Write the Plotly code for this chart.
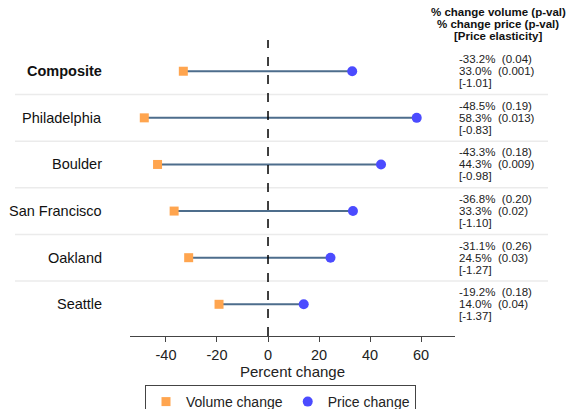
import plotly.graph_objects as go

cities = ["Composite", "Philadelphia", "Boulder", "San Francisco", "Oakland", "Seattle"]
volume_change = [-33.2, -48.5, -43.3, -36.8, -31.1, -19.2]
price_change = [33.0, 58.3, 44.3, 33.3, 24.5, 14.0]
volume_p = ["0.04", "0.19", "0.18", "0.20", "0.26", "0.18"]
price_p = ["0.001", "0.013", "0.009", "0.02", "0.03", "0.04"]
elasticity = ["-1.01", "-0.83", "-0.98", "-1.10", "-1.27", "-1.37"]
x_ticks = [-40, -20, 0, 20, 40, 60]
header_lines = ["% change volume (p-val)", "% change price (p-val)", "[Price elasticity]"]

W, H = 571, 409
TOP, BOTTOM = 40, 336
PH = BOTTOM - TOP
FONT = "Liberation Sans, Arial, sans-serif"
ORANGE = "#ffa54f"
BLUE = "#4b4bff"
LINE = "#4d6d8c"

n = len(cities)
ypos = [n - 1 - i for i in range(n)]  # Composite at top

fig = go.Figure()

# connecting lines
lx, ly = [], []
for v, p, y in zip(volume_change, price_change, ypos):
    lx += [v, p, None]
    ly += [y, y, None]
fig.add_trace(go.Scatter(x=lx, y=ly, mode="lines", line=dict(color=LINE, width=2),
                         showlegend=False, hoverinfo="skip"))

fig.add_trace(go.Scatter(x=volume_change, y=ypos, mode="markers", name="Volume change",
                         marker=dict(symbol="square", size=9, color=ORANGE,
                                     line=dict(width=0))))
fig.add_trace(go.Scatter(x=price_change, y=ypos, mode="markers", name="Price change",
                         marker=dict(symbol="circle", size=10, color=BLUE,
                                     line=dict(width=0))))

shapes = []
# row separators
for k in range(n - 1):
    shapes.append(dict(type="line", xref="paper", yref="y", x0=15 / W, x1=548 / W,
                       y0=k + 0.5, y1=k + 0.5, line=dict(color="#ebebeb", width=1.5),
                       layer="below"))
# zero dashed line
shapes.append(dict(type="line", xref="x", yref="paper", x0=0, x1=0, y0=0, y1=1,
                   line=dict(color="black", width=1.5, dash="dash")))

annotations = []
for c, y in zip(cities, ypos):
    txt = "<b>%s</b>" % c if c == "Composite" else c
    annotations.append(dict(text=txt, xref="paper", yref="y", x=104 / W, y=y,
                            xanchor="right", yanchor="middle", showarrow=False,
                            font=dict(size=14.5, color="#111", family=FONT)))

NB = "\u00a0"
for i, y in enumerate(ypos):
    lines = ["%.1f%%%s%s(%s)" % (volume_change[i], NB, NB, volume_p[i]),
             "%.1f%%%s%s(%s)" % (price_change[i], NB, NB, price_p[i]),
             "[%s]" % elasticity[i]]
    for j, t in enumerate(lines):
        annotations.append(dict(text=t, xref="paper", yref="y", x=457 / W, y=y,
                                yshift=12 - 12 * j, xanchor="left", yanchor="middle",
                                showarrow=False,
                                font=dict(size=11.5, color="#222", family=FONT)))

for j, t in enumerate(header_lines):
    py = 12.5 + 12 * j
    annotations.append(dict(text="<b>%s</b>" % t, xref="paper", yref="paper",
                            x=498 / W, y=(BOTTOM - py) / PH, xanchor="center",
                            yanchor="middle", showarrow=False,
                            font=dict(size=11.5, color="#111", family=FONT)))

fig.update_layout(
    width=W, height=H,
    margin=dict(l=0, r=0, t=TOP, b=H - BOTTOM, autoexpand=False),
    paper_bgcolor="white", plot_bgcolor="white",
    font=dict(family=FONT, size=14, color="#222"),
    shapes=shapes, annotations=annotations,
    xaxis=dict(domain=[130 / W, 455 / W], range=[-54.1, 73.3],
               tickvals=x_ticks, ticktext=[str(t) for t in x_ticks],
               showgrid=False, zeroline=False, showline=True, linecolor="#444",
               linewidth=1.2, ticks="outside", ticklen=5, tickcolor="#444",
               tickfont=dict(size=14.5, color="#222"),
               title=dict(text="Percent change", standoff=3,
                          font=dict(size=15, color="#222"))),
    yaxis=dict(range=[-0.68, n - 1 + 0.67], showgrid=False, zeroline=False,
               showline=False, showticklabels=False, ticks=""),
    legend=dict(orientation="h", x=145 / W, xanchor="left",
                y=(BOTTOM - 385) / PH, yanchor="top",
                bordercolor="#444", borderwidth=1, bgcolor="white",
                font=dict(size=14, color="#222"), itemwidth=30,
                traceorder="normal"),
)

fig.write_html("out.html")
